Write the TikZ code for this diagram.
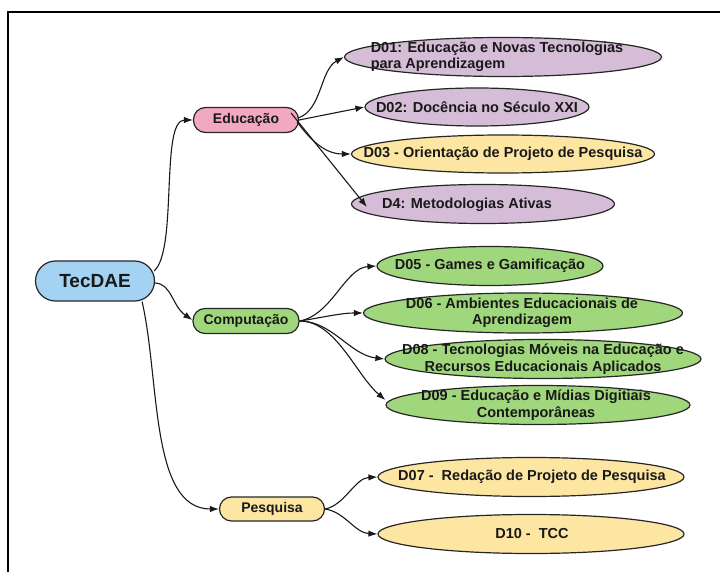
\documentclass[tikz,border=0pt]{standalone}
\usepackage{fontspec}
\setmainfont{Liberation Sans}
\usetikzlibrary{shapes.geometric,arrows.meta,calc}
\definecolor{cblue}{HTML}{A3D2F2}
\definecolor{cpink}{HTML}{F2A8C2}
\definecolor{cpurple}{HTML}{D5BDD7}
\definecolor{cyellow}{HTML}{FDE6A2}
\definecolor{cgreen}{HTML}{A0D77C}
\begin{document}
\begin{tikzpicture}[x=1pt,y=-1pt,
  pill/.style={draw=black!85,line width=1.2pt,rectangle,rounded corners=12pt,inner sep=0pt,
    font=\bfseries\fontsize{14}{16}\selectfont,text=black!90},
  ell/.style={draw=black!85,line width=1.2pt,ellipse,inner sep=0pt},
  lab/.style={font=\bfseries\fontsize{14.5}{16.5}\selectfont,text=black!90,inner sep=0pt},
  conn/.style={line width=1.1pt,draw=black!90,-{Latex[length=9pt,width=6.5pt]}}]
\useasboundingbox (0,0) rectangle (720,572);
\draw[line width=1.5pt] (720,12) -- (8,12) -- (8,572);

% main nodes
\node[pill,fill=cblue,rounded corners=20pt,minimum width=119pt,minimum height=40pt,
  font=\bfseries\fontsize{19}{21}\selectfont] (tec) at (95,281) {TecDAE};
\node[pill,fill=cpink,minimum width=105pt,minimum height=25pt] (edu) at (246,120) {Educação};
\node[pill,fill=cgreen,minimum width=106pt,minimum height=25pt] (comp) at (246,321) {Computação};
\node[pill,fill=cyellow,minimum width=105pt,minimum height=24pt] (pes) at (272,509) {Pesquisa};

% ellipses
\node[ell,fill=cpurple,minimum width=317pt,minimum height=39pt] (d01) at (503,57) {};
\node[ell,fill=cpurple,minimum width=224pt,minimum height=38pt] (d02) at (477,107) {};
\node[ell,fill=cyellow,minimum width=303pt,minimum height=38pt] (d03) at (503,154) {};
\node[ell,fill=cpurple,minimum width=263pt,minimum height=39pt] (d4) at (483,204) {};
\node[ell,fill=cgreen,minimum width=226pt,minimum height=39pt] (d05) at (490,266) {};
\node[ell,fill=cgreen,minimum width=319pt,minimum height=40pt] (d06) at (523,313) {};
\node[ell,fill=cgreen,minimum width=316pt,minimum height=39pt] (d08) at (543,359) {};
\node[ell,fill=cgreen,minimum width=304pt,minimum height=39pt] (d09) at (538,405) {};
\node[ell,fill=cyellow,minimum width=306pt,minimum height=39pt] (d07) at (531,477) {};
\node[ell,fill=cyellow,minimum width=306pt,minimum height=39pt] (d10) at (531,534) {};

% connectors
\draw[conn] ($(tec.east)+(-1,-10)$) .. controls (178,250) and (160,120) .. (edu.west);
\draw[conn] ($(tec.east)+(0,2)$) .. controls (172,284) and (172,306) .. ($(comp.west)+(0,-1)$);
\draw[conn] ($(tec.south east)+(-13,0)$) .. controls (160,380) and (150,509) .. (pes.west);

\draw[conn] ($(edu.east)+(-1,-2)$) .. controls (322,110) and (320,70) .. (d01.west);
\draw[conn] (edu.east) -- (d02.west);
\draw[conn] ($(edu.east)+(-2,2)$) .. controls (312,142) and (326,154) .. (d03.west);
\draw[conn] ($(edu.east)+(-8,-7)$) -- ($(d4.west)+(16,3)$);

\draw[conn] (comp.east) .. controls (332,315) and (345,268) .. (d05.west);
\draw[conn] (comp.east) .. controls (320,318) and (340,313) .. (d06.west);
\draw[conn] (comp.east) .. controls (332,321) and (350,355) .. (d08.west);
\draw[conn] (comp.east) .. controls (336,321) and (356,375) .. ($(d09.west)+(0,-5)$);

\draw[conn] (pes.east) .. controls (345,505) and (355,478) .. (d07.west);
\draw[conn] (pes.east) .. controls (345,512) and (355,533) .. (d10.west);

% labels
\node[lab,align=left] (t01) at (497,57) {D01: Educação e Novas Tecnologias\\para Aprendizagem};
\node[lab] (t02) at (477,107) {D02: Docência no Século XXI};
\node[lab] (t03) at (503,154) {D03 - Orientação de Projeto de Pesquisa};
\node[lab] (t04) at (467,205) {D4: Metodologias Ativas};
\node[lab] (t05) at (490,266) {D05 - Games e Gamificação};
\node[lab,align=center] (t06) at (522,313) {D06 - Ambientes Educacionais de\\Aprendizagem};
\node[lab,align=center] (t08) at (543,359) {D08 - Tecnologias Móveis na Educação e\\Recursos Educacionais Aplicados};
\node[lab,align=center] (t09) at (536,405) {D09 - Educação e Mídias Digitiais\\Contemporâneas};
\node[lab] (t07) at (532,477) {D07 -~ Redação de Projeto de Pesquisa};
\node[lab] (t10) at (532,534) {D10 -~ TCC};
\end{tikzpicture}
\end{document}
